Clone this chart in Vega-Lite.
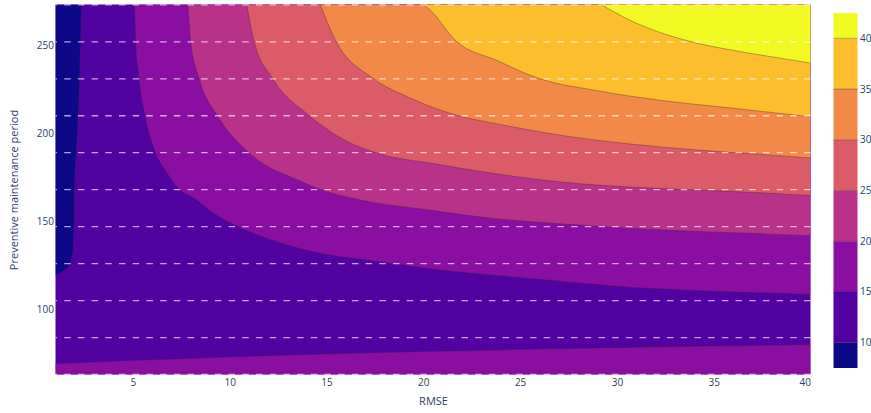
{
  "$schema": "https://vega.github.io/schema/vega-lite/v6.json",
  "padding": {"left": 8.5, "top": 3.5, "right": 3, "bottom": 5},
  "bounds": "flush",
  "spacing": 23,
  "background": "white",
  "config": {
    "font": "Open Sans",
    "axis": {
      "labelFont": "Open Sans", "labelFontSize": 10, "labelColor": "#2a3f5f",
      "titleFont": "Open Sans", "titleFontSize": 11, "titleFontWeight": "normal", "titleColor": "#2a3f5f",
      "domain": false, "ticks": false, "grid": false
    }
  },
  "datasets": {
    "curves": [
      {"curve": "L10", "band": "b05", "x": 1.0, "y": 119.5},
      {"curve": "L10", "band": "b05", "x": 1.41, "y": 122.3},
      {"curve": "L10", "band": "b05", "x": 1.69, "y": 125.1},
      {"curve": "L10", "band": "b05", "x": 1.78, "y": 128.0},
      {"curve": "L10", "band": "b05", "x": 1.89, "y": 132.7},
      {"curve": "L10", "band": "b05", "x": 1.95, "y": 147.8},
      {"curve": "L10", "band": "b05", "x": 1.98, "y": 168.7},
      {"curve": "L10", "band": "b05", "x": 2.07, "y": 189.1},
      {"curve": "L10", "band": "b05", "x": 2.17, "y": 210.1},
      {"curve": "L10", "band": "b05", "x": 2.24, "y": 231.6},
      {"curve": "L10", "band": "b05", "x": 2.29, "y": 252.5},
      {"curve": "L10", "band": "b05", "x": 2.34, "y": 273.1},

      {"curve": "L15b", "band": "b15", "x": 1.0, "y": 69.5},
      {"curve": "L15b", "band": "b15", "x": 5.0, "y": 71.3},
      {"curve": "L15b", "band": "b15", "x": 10.0, "y": 73.3},
      {"curve": "L15b", "band": "b15", "x": 15.0, "y": 75.0},
      {"curve": "L15b", "band": "b15", "x": 20.0, "y": 76.4},
      {"curve": "L15b", "band": "b15", "x": 25.0, "y": 77.6},
      {"curve": "L15b", "band": "b15", "x": 30.0, "y": 78.6},
      {"curve": "L15b", "band": "b15", "x": 35.0, "y": 79.5},
      {"curve": "L15b", "band": "b15", "x": 40.0, "y": 80.2},

      {"curve": "L15", "band": "b15", "x": 5.08, "y": 273.1},
      {"curve": "L15", "band": "b15", "x": 5.14, "y": 252.5},
      {"curve": "L15", "band": "b15", "x": 5.31, "y": 231.4},
      {"curve": "L15", "band": "b15", "x": 5.62, "y": 210.2},
      {"curve": "L15", "band": "b15", "x": 6.17, "y": 189.1},
      {"curve": "L15", "band": "b15", "x": 6.69, "y": 178.9},
      {"curve": "L15", "band": "b15", "x": 7.38, "y": 168.6},
      {"curve": "L15", "band": "b15", "x": 8.24, "y": 162.9},
      {"curve": "L15", "band": "b15", "x": 9.10, "y": 155.3},
      {"curve": "L15", "band": "b15", "x": 10.31, "y": 147.8},
      {"curve": "L15", "band": "b15", "x": 12.03, "y": 140.2},
      {"curve": "L15", "band": "b15", "x": 14.44, "y": 132.7},
      {"curve": "L15", "band": "b15", "x": 17.38, "y": 127.9},
      {"curve": "L15", "band": "b15", "x": 19.27, "y": 125.1},
      {"curve": "L15", "band": "b15", "x": 20.39, "y": 123.3},
      {"curve": "L15", "band": "b15", "x": 23.84, "y": 119.5},
      {"curve": "L15", "band": "b15", "x": 27.28, "y": 116.1},
      {"curve": "L15", "band": "b15", "x": 30.73, "y": 112.8},
      {"curve": "L15", "band": "b15", "x": 34.18, "y": 111.0},
      {"curve": "L15", "band": "b15", "x": 37.62, "y": 109.7},
      {"curve": "L15", "band": "b15", "x": 40.0, "y": 108.7},

      {"curve": "L20", "band": "b20", "x": 7.84, "y": 273.1},
      {"curve": "L20", "band": "b20", "x": 7.98, "y": 252.5},
      {"curve": "L20", "band": "b20", "x": 8.41, "y": 231.4},
      {"curve": "L20", "band": "b20", "x": 9.36, "y": 210.2},
      {"curve": "L20", "band": "b20", "x": 10.99, "y": 189.1},
      {"curve": "L20", "band": "b20", "x": 13.58, "y": 173.3},
      {"curve": "L20", "band": "b20", "x": 14.61, "y": 168.6},
      {"curve": "L20", "band": "b20", "x": 16.51, "y": 162.9},
      {"curve": "L20", "band": "b20", "x": 20.5, "y": 156.3},
      {"curve": "L20", "band": "b20", "x": 23.84, "y": 151.6},
      {"curve": "L20", "band": "b20", "x": 27.28, "y": 148.7},
      {"curve": "L20", "band": "b20", "x": 30.73, "y": 146.2},
      {"curve": "L20", "band": "b20", "x": 34.18, "y": 144.5},
      {"curve": "L20", "band": "b20", "x": 37.62, "y": 143.1},
      {"curve": "L20", "band": "b20", "x": 40.0, "y": 142.1},

      {"curve": "L25", "band": "b25", "x": 10.88, "y": 273.1},
      {"curve": "L25", "band": "b25", "x": 11.25, "y": 252.5},
      {"curve": "L25", "band": "b25", "x": 12.20, "y": 231.4},
      {"curve": "L25", "band": "b25", "x": 14.10, "y": 210.2},
      {"curve": "L25", "band": "b25", "x": 16.0, "y": 195.9},
      {"curve": "L25", "band": "b25", "x": 17.55, "y": 189.1},
      {"curve": "L25", "band": "b25", "x": 20.65, "y": 182.7},
      {"curve": "L25", "band": "b25", "x": 23.84, "y": 177.0},
      {"curve": "L25", "band": "b25", "x": 27.28, "y": 172.3},
      {"curve": "L25", "band": "b25", "x": 30.73, "y": 169.6},
      {"curve": "L25", "band": "b25", "x": 34.18, "y": 167.9},
      {"curve": "L25", "band": "b25", "x": 37.62, "y": 166.3},
      {"curve": "L25", "band": "b25", "x": 40.0, "y": 164.8},

      {"curve": "L30", "band": "b30", "x": 14.67, "y": 273.1},
      {"curve": "L30", "band": "b30", "x": 15.48, "y": 252.5},
      {"curve": "L30", "band": "b30", "x": 17.38, "y": 231.4},
      {"curve": "L30", "band": "b30", "x": 19.27, "y": 220.4},
      {"curve": "L30", "band": "b30", "x": 20.39, "y": 215.2},
      {"curve": "L30", "band": "b30", "x": 21.77, "y": 210.2},
      {"curve": "L30", "band": "b30", "x": 23.84, "y": 205.4},
      {"curve": "L30", "band": "b30", "x": 27.28, "y": 198.7},
      {"curve": "L30", "band": "b30", "x": 30.73, "y": 194.0},
      {"curve": "L30", "band": "b30", "x": 34.18, "y": 190.6},
      {"curve": "L30", "band": "b30", "x": 37.62, "y": 188.0},
      {"curve": "L30", "band": "b30", "x": 40.0, "y": 186.1},

      {"curve": "L35", "band": "b35", "x": 20.01, "y": 273.1},
      {"curve": "L35", "band": "b35", "x": 20.39, "y": 269.5},
      {"curve": "L35", "band": "b35", "x": 21.68, "y": 252.5},
      {"curve": "L35", "band": "b35", "x": 23.84, "y": 241.2},
      {"curve": "L35", "band": "b35", "x": 25.91, "y": 231.4},
      {"curve": "L35", "band": "b35", "x": 29.01, "y": 224.2},
      {"curve": "L35", "band": "b35", "x": 32.45, "y": 218.5},
      {"curve": "L35", "band": "b35", "x": 35.90, "y": 214.4},
      {"curve": "L35", "band": "b35", "x": 40.0, "y": 209.5},

      {"curve": "L40", "band": "b40", "x": 29.18, "y": 273.1},
      {"curve": "L40", "band": "b40", "x": 30.73, "y": 263.9},
      {"curve": "L40", "band": "b40", "x": 33.66, "y": 252.5},
      {"curve": "L40", "band": "b40", "x": 35.90, "y": 247.3},
      {"curve": "L40", "band": "b40", "x": 37.97, "y": 243.5},
      {"curve": "L40", "band": "b40", "x": 40.0, "y": 239.9}
    ],
    "grid": [
      {"gy": 63.4}, {"gy": 84.35}, {"gy": 105.3}, {"gy": 126.25}, {"gy": 147.2}, {"gy": 168.15},
      {"gy": 189.1}, {"gy": 210.05}, {"gy": 231.0}, {"gy": 251.95}, {"gy": 272.9}
    ],
    "bands": [
      {"band": "b05", "lo": 7.5, "hi": 10},
      {"band": "b10", "lo": 10, "hi": 15},
      {"band": "b15", "lo": 15, "hi": 20},
      {"band": "b20", "lo": 20, "hi": 25},
      {"band": "b25", "lo": 25, "hi": 30},
      {"band": "b30", "lo": 30, "hi": 35},
      {"band": "b35", "lo": 35, "hi": 40},
      {"band": "b40", "lo": 40, "hi": 42.5}
    ],
    "levels": [
      {"level": 10}, {"level": 15}, {"level": 20}, {"level": 25}, {"level": 30}, {"level": 35}, {"level": 40}
    ]
  },
  "hconcat": [
    {
      "width": 755,
      "height": 370,
      "view": {"stroke": null, "fill": "#5302a2"},
      "data": {"name": "curves"},
      "layer": [
        {
          "transform": [{"filter": "datum.curve == 'L15b'"}],
          "mark": {"type": "area", "interpolate": "monotone", "clip": true},
          "encoding": {
            "x": {"field": "x", "type": "quantitative", "scale": {"domain": [1, 40], "nice": false, "zero": false},
                  "axis": {"title": "RMSE", "values": [5, 10, 15, 20, 25, 30, 35, 40], "labelPadding": 3, "titlePadding": 8}},
            "y": {"field": "y", "type": "quantitative", "stack": null, "scale": {"domain": [63.4, 273.1], "nice": false, "zero": false},
                  "axis": {"title": "Preventive maintenance period", "values": [100, 150, 200, 250], "labelPadding": 2, "titlePadding": 16.5}},
            "y2": {"datum": 63.4},
            "color": {"field": "band", "type": "nominal", "legend": null,
                      "scale": {"domain": ["b05", "b10", "b15", "b20", "b25", "b30", "b35", "b40"],
                                "range": ["#0d0887", "#5302a2", "#8a0ea2", "#b83289", "#db5c68", "#f38948", "#fcbe2c", "#f0f921"]}}
          }
        },
        {
          "transform": [{"filter": "datum.curve == 'L10'"}],
          "mark": {"type": "area", "interpolate": "monotone", "clip": true},
          "encoding": {
            "x": {"field": "x", "type": "quantitative"},
            "y": {"field": "y", "type": "quantitative", "stack": null},
            "y2": {"datum": 273.1},
            "color": {"field": "band", "type": "nominal", "legend": null}
          }
        },
        {
          "transform": [{"filter": "datum.curve == 'L15'"}],
          "mark": {"type": "area", "interpolate": "monotone", "clip": true},
          "encoding": {
            "x": {"field": "x", "type": "quantitative"},
            "y": {"field": "y", "type": "quantitative", "stack": null},
            "y2": {"datum": 273.1},
            "color": {"field": "band", "type": "nominal", "legend": null}
          }
        },
        {
          "transform": [{"filter": "datum.curve == 'L20'"}],
          "mark": {"type": "area", "interpolate": "monotone", "clip": true},
          "encoding": {
            "x": {"field": "x", "type": "quantitative"},
            "y": {"field": "y", "type": "quantitative", "stack": null},
            "y2": {"datum": 273.1},
            "color": {"field": "band", "type": "nominal", "legend": null}
          }
        },
        {
          "transform": [{"filter": "datum.curve == 'L25'"}],
          "mark": {"type": "area", "interpolate": "monotone", "clip": true},
          "encoding": {
            "x": {"field": "x", "type": "quantitative"},
            "y": {"field": "y", "type": "quantitative", "stack": null},
            "y2": {"datum": 273.1},
            "color": {"field": "band", "type": "nominal", "legend": null}
          }
        },
        {
          "transform": [{"filter": "datum.curve == 'L30'"}],
          "mark": {"type": "area", "interpolate": "monotone", "clip": true},
          "encoding": {
            "x": {"field": "x", "type": "quantitative"},
            "y": {"field": "y", "type": "quantitative", "stack": null},
            "y2": {"datum": 273.1},
            "color": {"field": "band", "type": "nominal", "legend": null}
          }
        },
        {
          "transform": [{"filter": "datum.curve == 'L35'"}],
          "mark": {"type": "area", "interpolate": "monotone", "clip": true},
          "encoding": {
            "x": {"field": "x", "type": "quantitative"},
            "y": {"field": "y", "type": "quantitative", "stack": null},
            "y2": {"datum": 273.1},
            "color": {"field": "band", "type": "nominal", "legend": null}
          }
        },
        {
          "transform": [{"filter": "datum.curve == 'L40'"}],
          "mark": {"type": "area", "interpolate": "monotone", "clip": true},
          "encoding": {
            "x": {"field": "x", "type": "quantitative"},
            "y": {"field": "y", "type": "quantitative", "stack": null},
            "y2": {"datum": 273.1},
            "color": {"field": "band", "type": "nominal", "legend": null}
          }
        },
        {
          "mark": {"type": "line", "interpolate": "monotone", "clip": true, "stroke": "#3a2a3a", "strokeOpacity": 0.55, "strokeWidth": 0.7},
          "encoding": {
            "x": {"field": "x", "type": "quantitative"},
            "y": {"field": "y", "type": "quantitative"},
            "detail": {"field": "curve", "type": "nominal"}
          }
        },
        {
          "data": {"name": "grid"},
          "mark": {"type": "rule", "stroke": "white", "strokeOpacity": 0.65, "strokeWidth": 1.3, "strokeDash": [6.5, 7.2]},
          "encoding": {
            "y": {"field": "gy", "type": "quantitative"}
          }
        }
      ]
    },
    {
      "width": 24,
      "height": 370,
      "view": {"stroke": null},
      "layer": [
        {
          "data": {"name": "bands"},
          "mark": {"type": "rect"},
          "encoding": {
            "y": {"field": "lo", "type": "quantitative",
                  "scale": {"domain": [6.86, 43.34], "nice": false, "zero": false},
                  "axis": {"orient": "right", "title": null, "values": [10, 15, 20, 25, 30, 35, 40], "labelPadding": 2}},
            "y2": {"field": "hi"},
            "color": {"field": "band", "type": "nominal", "legend": null,
                      "scale": {"domain": ["b05", "b10", "b15", "b20", "b25", "b30", "b35", "b40"],
                                "range": ["#0d0887", "#5302a2", "#8a0ea2", "#b83289", "#db5c68", "#f38948", "#fcbe2c", "#f0f921"]}}
          }
        },
        {
          "data": {"name": "levels"},
          "mark": {"type": "rule", "stroke": "#3a2a3a", "strokeOpacity": 0.55, "strokeWidth": 0.7},
          "encoding": {
            "y": {"field": "level", "type": "quantitative"}
          }
        }
      ]
    }
  ]
}
